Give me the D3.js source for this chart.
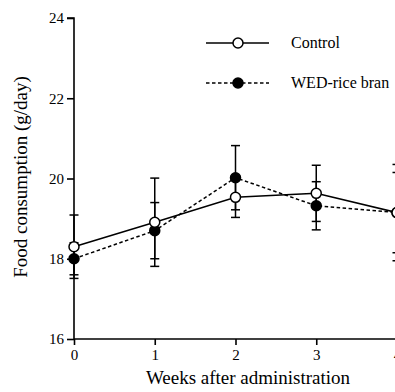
<!DOCTYPE html>
<html><head><meta charset="utf-8">
<script src="https://cdn.jsdelivr.net/npm/d3@7"></script>
</head><body style="margin:0"><svg id="c" width="395" height="392" style="font-family:'Liberation Serif'"></svg>
<script>
const weeks = [0, 1, 2, 3, 4];
const controlMean = [18.3, 18.91, 19.53, 19.63, 19.15];
const controlErr  = [0.79, 1.1, 0.5, 0.7, 1.2];
const wedMean = [18.0, 18.7, 20.02, 19.32, 19.15];
const wedErr  = [0.4, 0.7, 0.8, 0.6, 1.0];
const xTicks = [0, 1, 2, 3, 4];
const yTicks = [16, 18, 20, 22, 24];
const seriesNames = ["Control", "WED-rice bran"];

const FONT = '"Liberation Serif"';
const svg = d3.select("#c");
const x = d3.scaleLinear().domain([0, 4]).range([74, 397]);
const y = d3.scaleLinear().domain([16, 24]).range([339, 18]);

svg.append("rect").attr("width", 395).attr("height", 392).attr("fill", "#fff");

// axes
const yAx = svg.append("g").attr("transform", "translate(74,0)")
  .call(d3.axisLeft(y).tickValues(yTicks).tickSize(7).tickPadding(3).tickFormat(d3.format("d")));
yAx.select(".domain").attr("d", `M-7,${y(24)}H0V${y(16)}`);
const xAx = svg.append("g").attr("transform", "translate(0,339)")
  .call(d3.axisBottom(x).tickValues(xTicks).tickSize(6).tickPadding(4).tickFormat(d3.format("d")));
xAx.select(".domain").attr("d", `M${x(0)},0H400`);
[yAx, xAx].forEach(g => {
  g.attr("font-family", null).attr("font-size", null);
  g.selectAll("path,line").attr("stroke", "#000").attr("stroke-width", 1.6);
  g.selectAll("text").attr("fill", "#000").style("font-family", FONT).style("font-size", "15px");
});

svg.append("text").attr("x", 248).attr("y", 384).attr("text-anchor", "middle")
  .style("font-family", FONT).style("font-size", "19px").text("Weeks after administration");
svg.append("text").attr("transform", "translate(27,177) rotate(-90)").attr("text-anchor", "middle")
  .style("font-family", FONT).style("font-size", "19px").text("Food consumption (g/day)");

const series = [
  {name: seriesNames[0], mean: controlMean, err: controlErr, fill: "#fff", dash: null},
  {name: seriesNames[1], mean: wedMean, err: wedErr, fill: "#000", dash: "3.5,2.5"}
];

// error bars
series.forEach(s => {
  const g = svg.append("g").attr("stroke", "#000").attr("stroke-width", 1.5);
  weeks.forEach((w, i) => {
    const cx = x(w), hi = y(s.mean[i] + s.err[i]), lo = y(s.mean[i] - s.err[i]);
    g.append("line").attr("x1", cx).attr("x2", cx).attr("y1", hi).attr("y2", lo);
    g.append("line").attr("x1", cx - 4.5).attr("x2", cx + 4.5).attr("y1", hi).attr("y2", hi);
    g.append("line").attr("x1", cx - 4.5).attr("x2", cx + 4.5).attr("y1", lo).attr("y2", lo);
  });
});

const line = d3.line().x((d, i) => x(weeks[i])).y(d => y(d));
[series[1], series[0]].forEach(s => {
  svg.append("path").attr("d", line(s.mean)).attr("fill", "none").attr("stroke", "#000")
    .attr("stroke-width", 1.5).attr("stroke-dasharray", s.dash);
});
[series[1], series[0]].forEach(s => {
  svg.append("g").selectAll("circle").data(s.mean).join("circle")
    .attr("cx", (d, i) => x(weeks[i])).attr("cy", d => y(d)).attr("r", 5)
    .attr("fill", s.fill).attr("stroke", "#000").attr("stroke-width", 1.5);
});

// legend
series.forEach((s, i) => {
  const ly = 43 + i * 40;
  svg.append("line").attr("x1", 206).attr("x2", 269).attr("y1", ly).attr("y2", ly)
    .attr("stroke", "#000").attr("stroke-width", 1.5).attr("stroke-dasharray", s.dash);
  svg.append("circle").attr("cx", 238).attr("cy", ly).attr("r", 5)
    .attr("fill", s.fill).attr("stroke", "#000").attr("stroke-width", 1.5);
  svg.append("text").attr("x", 291).attr("y", ly + 5).style("font-family", FONT)
    .style("font-size", "16px").text(s.name);
});
</script></body></html>
